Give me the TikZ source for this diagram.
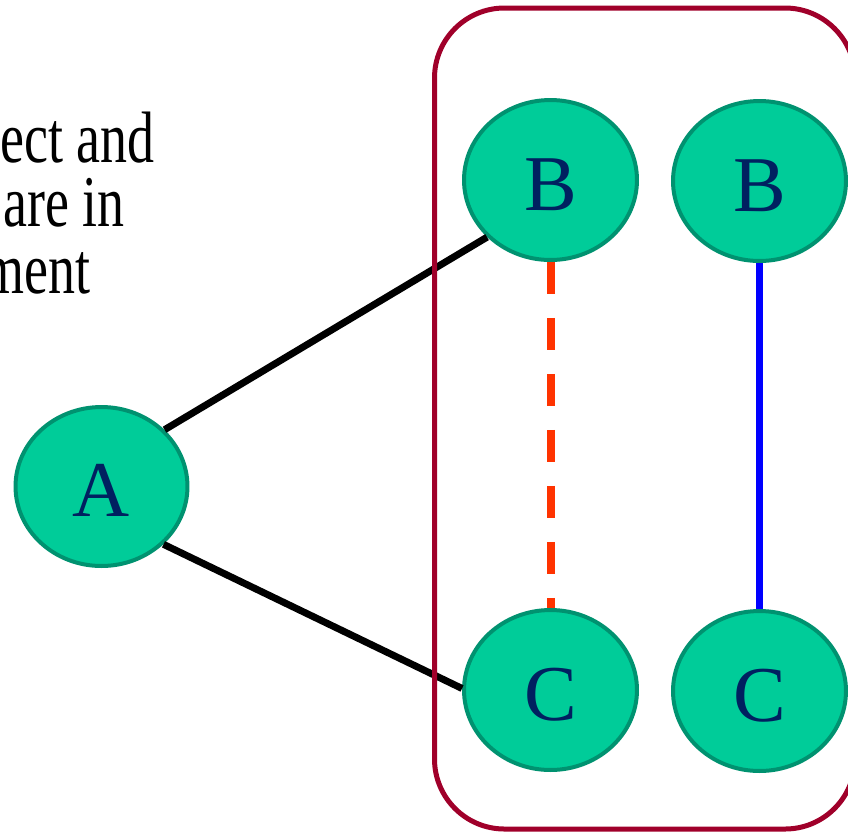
\documentclass[tikz,border=0pt]{standalone}
\usepackage{fontspec}
\setmainfont{Liberation Serif}
\usetikzlibrary{shapes.geometric}
\definecolor{nodefill}{RGB}{0,204,153}
\definecolor{nodeedge}{RGB}{0,146,112}
\definecolor{labelnavy}{RGB}{0,32,96}
\definecolor{groupred}{RGB}{160,0,42}
\definecolor{dashorange}{RGB}{255,51,0}
\definecolor{solidblue}{RGB}{0,0,255}
\begin{document}
\begin{tikzpicture}[x=0.02cm,y=-0.02cm,
  vertex/.style={ellipse, draw=nodeedge, fill=nodefill, line width=0.08cm,
    minimum width=3.46cm, minimum height=3.2cm, inner sep=0pt,
    text height=34.3pt, text depth=0pt,
    text=labelnavy, font=\fontsize{45}{45}\selectfont},
  edge/.style={line width=0.14cm, black},
  dashedge/.style={line width=0.16cm, dashorange, dash pattern=on 0.64cm off 0.48cm},
  solidedge/.style={line width=0.15cm, solidblue},
  group/.style={line width=0.1cm, groupred, rounded corners=1.4cm},
  caption/.style={anchor=base east, inner sep=0pt, text depth=0pt,
    font=\fontsize{30.7}{30.7}\selectfont}
]
\useasboundingbox (0,0) rectangle (848,833);
\clip (0,0) rectangle (848,833);

% text fragments on the left
\node[caption] (t1) at (155,162) {\scalebox{1}[1.35]{ect and}};
\node[caption] (t2) at (125,226) {\scalebox{1}[1.35]{are in}};
\node[caption] (t3) at (91,293) {\scalebox{1}[1.35]{ment}};

% vertices
\node[vertex, minimum width=3.44cm, minimum height=3.18cm] (A) at (101.5,486.5) {A};
\node[vertex] (B1) at (550.5,180) {B};
\node[vertex] (B2) at (759.5,181) {B};
\node[vertex] (C1) at (550.5,690) {C};
\node[vertex] (C2) at (759.5,691) {C};

% edges
\draw[edge] (A.42) -- (B1.222);
\draw[edge] (A.-43) -- (C1.179);
\draw[dashedge] (B1) -- (C1);
\draw[solidedge] (B2) -- (C2);

% grouping frame
\draw[group] (434.5,8) rectangle (855,829);
\end{tikzpicture}
\end{document}
